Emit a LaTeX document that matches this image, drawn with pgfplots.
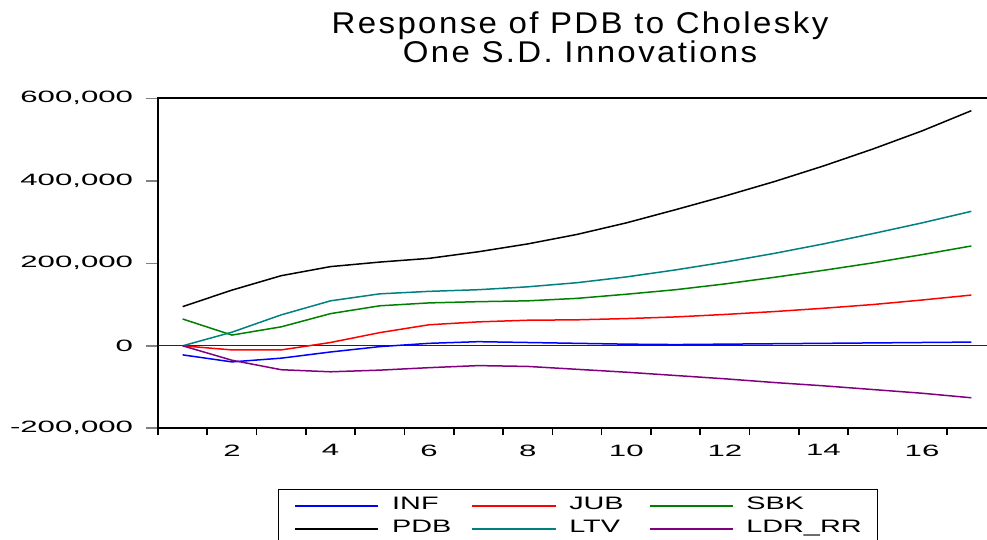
\documentclass[border=0pt]{standalone}
\usepackage{fontspec}
\setmainfont{Liberation Sans}
\newfontfamily\tickfont{Liberation Sans}[FakeStretch=1.9]
\newfontfamily\legfont{Liberation Sans}[FakeStretch=1.6]
\newfontfamily\titfont{Liberation Sans}[FakeStretch=1.1,LetterSpace=8]
\usepackage{pgfplots}
\usepackage{pgfplotstable}
\pgfplotsset{compat=1.18}

\definecolor{cinf}{RGB}{0,0,255}
\definecolor{cjub}{RGB}{255,0,0}
\definecolor{csbk}{RGB}{0,128,0}
\definecolor{cpdb}{RGB}{0,0,0}
\definecolor{cltv}{RGB}{0,128,128}
\definecolor{cldr}{RGB}{128,0,128}

% legend key: coloured line (stroke colour set directly), gap, name
\newcommand{\key}[2]{\tikz[baseline=0pt]\draw[draw=#1, line width=0.8pt] (0pt,2pt) -- (41.5pt,2pt);\hspace{6.5pt}#2}

% impulse responses, periods 1..17
\pgfplotstableread{
k   inf     jub     sbk     pdb     ltv     ldr
1   -22000  0       65000   95000   0       0
2   -39000  -10000  26000   135000  33000   -35000
3   -30000  -10000  46000   170000  75000   -58000
4   -15000  8000    78000   192000  109000  -63000
5   -2000   32000   97000   203000  126000  -59000
6   6000    51000   104000  212000  132000  -53000
7   10000   58000   107000  228000  136000  -48000
8   8000    62000   109000  247000  143000  -50000
9   6000    63000   115000  270000  153000  -57000
10  4000    66000   125000  298000  167000  -64000
11  3000    70000   136000  330000  184000  -72000
12  4000    76000   150000  363000  203000  -80000
13  5000    83000   166000  398000  224000  -89000
14  6000    91000   183000  436000  247000  -97000
15  7000    100000  201000  477000  272000  -106000
16  8000    111000  221000  521000  298000  -115000
17  9000    123000  242000  570000  326000  -126000
}\irf

\begin{document}
\begin{tikzpicture}
\useasboundingbox (-79pt,-55.85pt) rectangle (414.5pt,214.15pt);
\begin{axis}[
  at={(0,0)}, anchor=south west,
  scale only axis, width=419pt, height=165pt,
  xmin=0.5, xmax=17.5,
  ymin=-200000, ymax=600000,
  axis line style={line width=1pt},
  tick align=outside, tick pos=left,
  /pgf/number format/assume math mode=true,
  % labels at even periods without marks, marks between periods
  xtick={2,4,...,16},
  xtick style={/pgfplots/major tick length=3.5pt, draw=none},
  extra x ticks={0.5,1.5,...,16.5},
  extra x tick labels={},
  extra x tick style={xtick style={/pgfplots/major tick length=3.5pt, draw=black, line width=0.8pt}},
  ytick={-200000,0,200000,400000,600000},
  yticklabels={{-200,000},{0},{200,000},{400,000},{600,000}},
  scaled y ticks=false,
  ytick style={/pgfplots/major tick length=6pt, draw=gray, line width=0.8pt},
  x tick label style={font=\tickfont\fontsize{8.2}{9}\selectfont, inner sep=0pt, anchor=north, yshift=-3.7pt},
  y tick label style={font=\tickfont\fontsize{8.2}{9}\selectfont, inner sep=0pt, anchor=east, xshift=-8pt},
  every axis plot/.append style={line width=0.75pt, mark=none},
  legend columns=3,
  legend cell align=left,
  legend image code/.code={},
  legend style={
    at={(axis description cs:0.1432,-0.1839)}, anchor=north west,
    draw=black, line width=0.6pt,
    inner xsep=8pt, inner ysep=3.5pt,
    font=\legfont\fontsize{9}{10}\selectfont,
    nodes={inner sep=0pt, text height=6.6pt, text depth=2.4pt},
    row sep=2.5pt,
    /tikz/every odd column/.append style={column sep=0pt},
  },
]
\addplot[black!85, line width=0.5pt, forget plot] coordinates {(0.5,0) (17.5,0)};
\addplot[draw=cinf] table[x=k, y=inf] {\irf};
\addlegendentry{\key{cinf}{\makebox[39.75pt][l]{INF}}}
\addplot[draw=cjub] table[x=k, y=jub] {\irf};
\addlegendentry{\key{cjub}{\makebox[39.75pt][l]{JUB}}}
\addplot[draw=csbk] table[x=k, y=sbk] {\irf};
\addlegendentry{\key{csbk}{SBK}}
\addplot[draw=cpdb] table[x=k, y=pdb] {\irf};
\addlegendentry{\key{cpdb}{\makebox[39.75pt][l]{PDB}}}
\addplot[draw=cltv] table[x=k, y=ltv] {\irf};
\addlegendentry{\key{cltv}{\makebox[39.75pt][l]{LTV}}}
\addplot[draw=cldr] table[x=k, y=ldr] {\irf};
\addlegendentry{\key{cldr}{LDR\_RR}}
\end{axis}
\node[font=\titfont\fontsize{15}{18}\selectfont, anchor=base] at (211pt,197.15pt) {Response of PDB to Cholesky};
\node[font=\titfont\fontsize{15}{18}\selectfont, anchor=base] at (211pt,182.65pt) {One S.D. Innovations};
\end{tikzpicture}
\end{document}
